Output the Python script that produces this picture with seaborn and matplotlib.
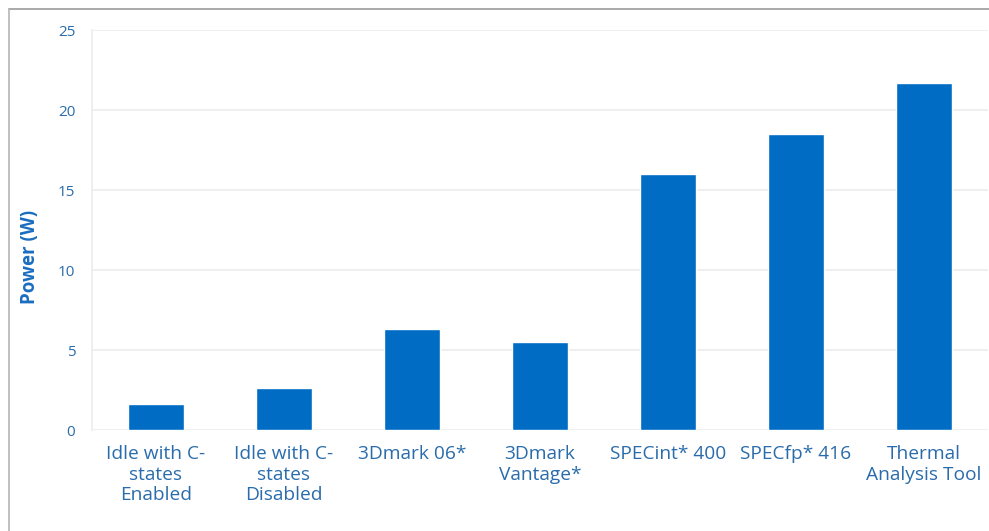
import matplotlib
matplotlib.use("Agg")
import matplotlib.pyplot as plt
from matplotlib.lines import Line2D
import seaborn as sns
import pandas as pd

# Workload categories and measured package power
workloads = [
    "Idle with C-\nstates\nEnabled",
    "Idle with C-\nstates\nDisabled",
    "3Dmark 06*",
    "3Dmark\nVantage*",
    "SPECint* 400",
    "SPECfp* 416",
    "Thermal\nAnalysis Tool",
]
power_w = [1.6, 2.6, 6.3, 5.5, 16.0, 18.5, 21.7]
y_ticks = [0, 5, 10, 15, 20, 25]

df = pd.DataFrame({"workload": workloads, "power": power_w})

sns.set_theme(style="white")
plt.rcParams["font.family"] = ["Open Sans", "DejaVu Sans"]

BAR = "#006cc4"
TEXT = "#2a6cab"
GRID = "#ececec"

fig = plt.figure(figsize=(9.89, 5.31), dpi=100)
ax = fig.add_axes([92 / 989, 1 - 430 / 531, 896 / 989, 400 / 531])

sns.barplot(data=df, x="workload", y="power", color=BAR, width=0.445,
            saturation=1, ax=ax, zorder=3)

ax.set_xlim(-0.5, len(workloads) - 0.5)
ax.set_ylim(0, 25)
ax.set_yticks(y_ticks)
ax.set_yticklabels([str(t) for t in y_ticks])
ax.yaxis.grid(True, color=GRID, linewidth=1.2, zorder=0)
ax.set_axisbelow(True)

for side in ["top", "right", "bottom"]:
    ax.spines[side].set_visible(False)
ax.spines["left"].set_color(GRID)
ax.spines["left"].set_linewidth(1.2)

ax.tick_params(axis="y", length=0, pad=12, labelsize=11, labelcolor=TEXT)
ax.tick_params(axis="x", length=0, pad=11, labelsize=13.8, labelcolor=TEXT)
for lbl in ax.get_xticklabels():
    lbl.set_linespacing(1.18)

ax.set_xlabel("")
ax.set_ylabel("Power (W)", color="#1a6dbf", fontsize=13.5, fontweight="bold")
ax.yaxis.set_label_coords(-0.058, 0.4325)

# Gray frame around the chart area
fig.add_artist(Line2D([9 / 989, 1.0], [1 - 9 / 531, 1 - 9 / 531],
                      transform=fig.transFigure, color="#9b9b9b", linewidth=1.2))
fig.add_artist(Line2D([9 / 989, 9 / 989], [0.0, 1 - 9 / 531],
                      transform=fig.transFigure, color="#b5b5b5", linewidth=1.2))

fig.savefig("out.png", dpi=100)
